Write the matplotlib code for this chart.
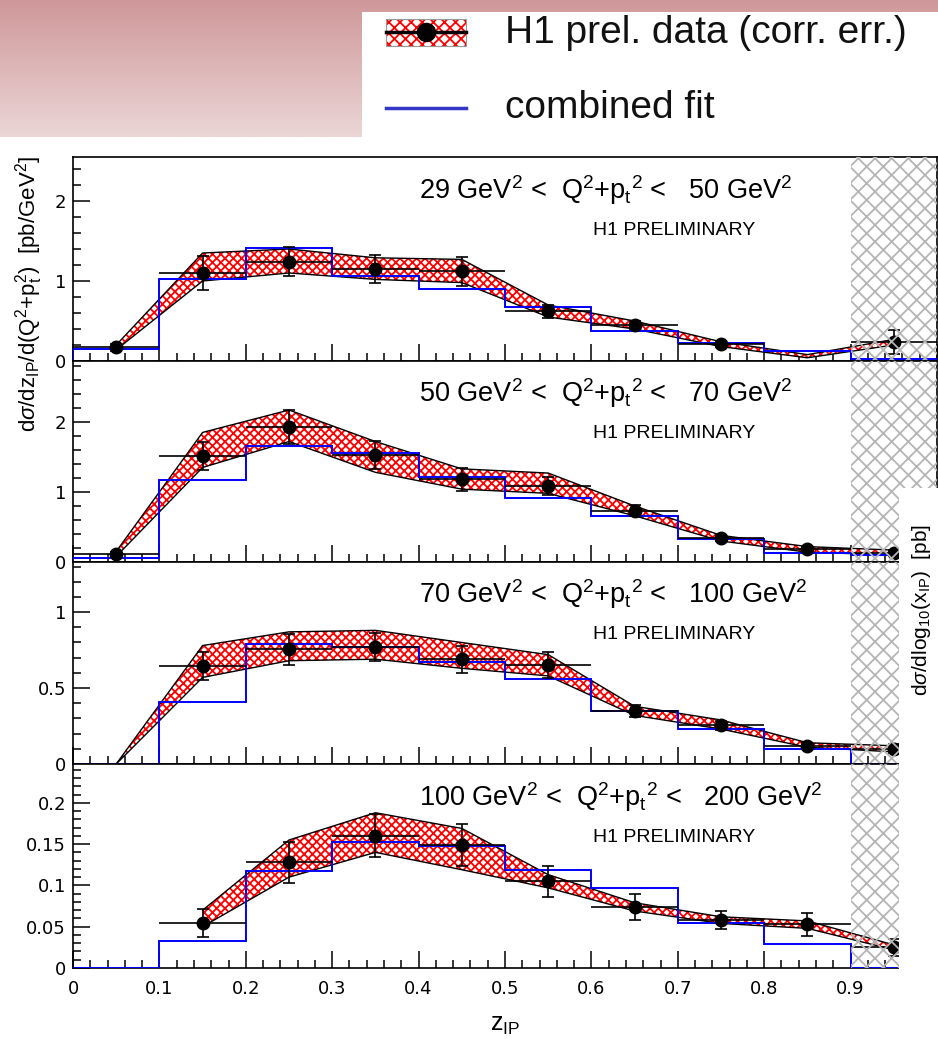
import numpy as np
import matplotlib.pyplot as plt
from matplotlib.patches import Rectangle
from matplotlib.ticker import MultipleLocator

plt.rcParams['font.family'] = ['Liberation Sans', 'DejaVu Sans']
plt.rcParams['mathtext.fontset'] = 'custom'
plt.rcParams['mathtext.rm'] = 'Liberation Sans'
plt.rcParams['mathtext.it'] = 'Liberation Sans:italic'
plt.rcParams['mathtext.bf'] = 'Liberation Sans:bold'
plt.rcParams['hatch.linewidth'] = 1.3

nan = np.nan

# bin centres / edges in z_IP
z = [0.05, 0.15, 0.25, 0.35, 0.45, 0.55, 0.65, 0.75, 0.85, 0.95]
edges = [0.0, 0.1, 0.2, 0.3, 0.4, 0.5, 0.6, 0.7, 0.8, 0.9, 1.0]
xticklabels = ['0', '0.1', '0.2', '0.3', '0.4', '0.5', '0.6', '0.7', '0.8', '0.9']

# 29 < Q2+pt2 < 50
p1_val = [0.17, 1.10, 1.24, 1.15, 1.12, 0.62, 0.45, 0.21, nan, 0.24]
p1_err = [0.04, 0.21, 0.18, 0.17, 0.18, 0.08, 0.05, 0.03, nan, 0.15]
p1_hi = [0.20, 1.35, 1.40, 1.29, 1.27, 0.70, 0.50, 0.24, 0.08, 0.27]
p1_lo = [0.14, 1.00, 1.10, 1.02, 0.98, 0.55, 0.40, 0.18, 0.04, 0.20]
p1_fit = [0.15, 1.02, 1.41, 1.06, 0.90, 0.68, 0.38, 0.23, 0.13, 0.03]

# 50 < Q2+pt2 < 70
p2_val = [0.11, 1.51, 1.93, 1.53, 1.18, 1.09, 0.73, 0.34, 0.18, 0.13]
p2_err = [0.03, 0.20, 0.24, 0.20, 0.16, 0.13, 0.08, 0.04, 0.04, 0.04]
p2_hi = [0.15, 1.85, 2.17, 1.72, 1.33, 1.27, 0.80, 0.38, 0.22, 0.17]
p2_lo = [0.08, 1.35, 1.72, 1.28, 1.04, 0.98, 0.66, 0.30, 0.14, 0.10]
p2_fit = [0.06, 1.17, 1.66, 1.55, 1.22, 0.91, 0.66, 0.33, 0.13, 0.10]

# 70 < Q2+pt2 < 100
p3_val = [nan, 0.645, 0.755, 0.77, 0.69, 0.65, 0.35, 0.255, 0.12, 0.10]
p3_err = [nan, 0.09, 0.10, 0.09, 0.09, 0.085, 0.04, 0.03, 0.02, 0.03]
p3_hi = [0.0, 0.78, 0.87, 0.88, 0.80, 0.72, 0.38, 0.29, 0.14, 0.12]
p3_lo = [0.0, 0.57, 0.68, 0.69, 0.63, 0.58, 0.32, 0.23, 0.11, 0.08]
p3_fit = [0.0, 0.41, 0.79, 0.77, 0.67, 0.56, 0.35, 0.23, 0.10, 0.0]

# 100 < Q2+pt2 < 200
p4_val = [nan, 0.054, 0.128, 0.16, 0.149, 0.105, 0.074, 0.058, 0.053, 0.025]
p4_err = [nan, 0.017, 0.025, 0.026, 0.025, 0.019, 0.016, 0.011, 0.014, 0.010]
p4_hi = [nan, 0.070, 0.155, 0.188, 0.169, 0.113, 0.079, 0.062, 0.057, 0.028]
p4_lo = [nan, 0.050, 0.110, 0.140, 0.119, 0.097, 0.069, 0.054, 0.048, 0.022]
p4_fit = [0.0, 0.033, 0.117, 0.153, 0.148, 0.119, 0.097, 0.055, 0.029, 0.0]

q2_lo = ['29', '50', '70', '100']
q2_hi = ['50', '70', '100', '200']
y_top = [2.55, 2.87, 1.33, 0.247]
y_major = [[0, 1, 2], [0, 1, 2], [0, 0.5, 1], [0, 0.05, 0.1, 0.15, 0.2]]
y_labels = [['0', '1', '2'], ['0', '1', '2'], ['0', '0.5', '1'],
            ['0', '0.05', '0.1', '0.15', '0.2']]
y_minor = [0.2, 0.2, 0.1, 0.01]

panels = [(p1_val, p1_err, p1_hi, p1_lo, p1_fit),
          (p2_val, p2_err, p2_hi, p2_lo, p2_fit),
          (p3_val, p3_err, p3_hi, p3_lo, p3_fit),
          (p4_val, p4_err, p4_hi, p4_lo, p4_fit)]

W, H = 938, 1039
fig = plt.figure(figsize=(W / 100, H / 100), dpi=100)

# slide background (pink corner) and legend box
bg = fig.add_axes([0, 0, 1, 1], zorder=-5)
bg.set_xlim(0, W)
bg.set_ylim(H, 0)
bg.axis('off')
top_c = np.array([207, 152, 154]) / 255
bot_c = np.array([236, 214, 214]) / 255
t = np.linspace(0, 1, 100)[:, None, None]
grad = top_c * (1 - t) + bot_c * t
bg.imshow(grad, extent=[0, W, 137, 0], aspect='auto', zorder=0)
bg.add_patch(Rectangle((362, 12), W - 362, 125, facecolor='white',
                       edgecolor='none', zorder=1))
bg.add_patch(Rectangle((386, 19), 80, 27, facecolor='white', edgecolor='red',
                       hatch='xxx', lw=0, zorder=2))
bg.add_patch(Rectangle((386, 19), 80, 27, facecolor='none', edgecolor='#999999',
                       lw=0.8, zorder=3))
bg.plot([386, 466], [32, 32], color='black', lw=2.5, zorder=4)
bg.plot([426], [32], 'o', color='black', ms=13, zorder=5)
bg.plot([386, 466], [108, 108], color='#3535c8', lw=2.5, zorder=4)
bg.text(505, 33, 'H1 prel. data (corr. err.)', fontsize=28, va='center',
        ha='left', color='#111111', zorder=5)
bg.text(505, 108, 'combined fit', fontsize=28, va='center', ha='left',
        color='#111111', zorder=5)

left = 73 / W
width = 864 / W
tops = [157, 361, 562, 764]
bottoms = [361, 562, 764, 968]

for i, (val, err, hi, lo, fit) in enumerate(panels):
    ax = fig.add_axes([left, 1 - bottoms[i] / H, width,
                       (bottoms[i] - tops[i]) / H])
    ax.fill_between(z, lo, hi, facecolor='white', edgecolor='red',
                    hatch='xxxx', lw=0, zorder=2)
    ax.plot(z, hi, color='black', lw=1.0, zorder=3)
    ax.plot(z, lo, color='black', lw=1.0, zorder=3)
    ax.stairs(fit, edges, color='blue', lw=1.4, zorder=4)
    ax.errorbar(z, val, xerr=0.05, fmt='none', ecolor='black', elinewidth=1.2,
                capsize=0, zorder=5)
    ax.errorbar(z, val, yerr=err, fmt='o', color='black', ms=9,
                elinewidth=1.2, capsize=4, capthick=1.2, zorder=5)
    ax.add_patch(Rectangle((0.9, 0), 0.1, 1, transform=ax.get_xaxis_transform(),
                           facecolor='none', edgecolor='#b5b5b5', hatch='xx',
                           lw=0, zorder=6))

    ax.set_xlim(0, 1)
    ax.set_ylim(0, y_top[i])
    ax.xaxis.set_minor_locator(MultipleLocator(0.02))
    ax.yaxis.set_minor_locator(MultipleLocator(y_minor[i]))
    ax.set_yticks(y_major[i], labels=y_labels[i])
    if i == 3:
        ax.set_xticks(edges[:-1], labels=xticklabels)
    else:
        ax.set_xticks(edges)
        ax.tick_params(axis='x', labelbottom=False)
    ax.tick_params(which='both', direction='in', top=False, right=False,
                   width=1.1, labelsize=13)
    ax.tick_params(which='major', length=12)
    ax.tick_params(which='minor', length=6)
    ax.tick_params(axis='y', pad=5)
    ax.tick_params(axis='x', pad=9)
    for lab in ax.get_xticklabels() + ax.get_yticklabels():
        lab.set_family('DejaVu Sans')
    for sp in ax.spines.values():
        sp.set_linewidth(1.2)

    ax.text(0.4, 0.84, q2_lo[i] + r' GeV$^2$ <  Q$^2$+p$_{\rm t}$$^2$ <   '
            + q2_hi[i] + r' GeV$^2$', transform=ax.transAxes, fontsize=19.5,
            ha='left', va='center')
    ax.text(0.602, 0.64, 'H1 PRELIMINARY', transform=ax.transAxes, fontsize=14,
            ha='left', va='center')

fig.text(29 / W, 1 - 294 / H,
         r'd$\sigma$/dz$_{\rm IP}$/d(Q$^2$+p$_{\rm t}^2$)  [pb/GeV$^2$]',
         rotation=90, ha='center', va='center', fontsize=16)
fig.text(505 / W, 1 - 1025 / H, r'z$_{\rm IP}$', ha='center', va='center',
         fontsize=18)

# edge of the neighbouring plot on the slide
fig.patches.append(Rectangle((899 / W, 0), 1 - 899 / W, 1 - 488 / H,
                             transform=fig.transFigure, facecolor='white',
                             edgecolor='none', zorder=10))
fig.text(921 / W, 1 - 610 / H,
         r'd$\sigma$/dlog$_{10}$(x$_{\rm IP}$)  [pb]', rotation=90,
         ha='center', va='center', fontsize=15, zorder=11)

fig.savefig('out.png', dpi=100)
